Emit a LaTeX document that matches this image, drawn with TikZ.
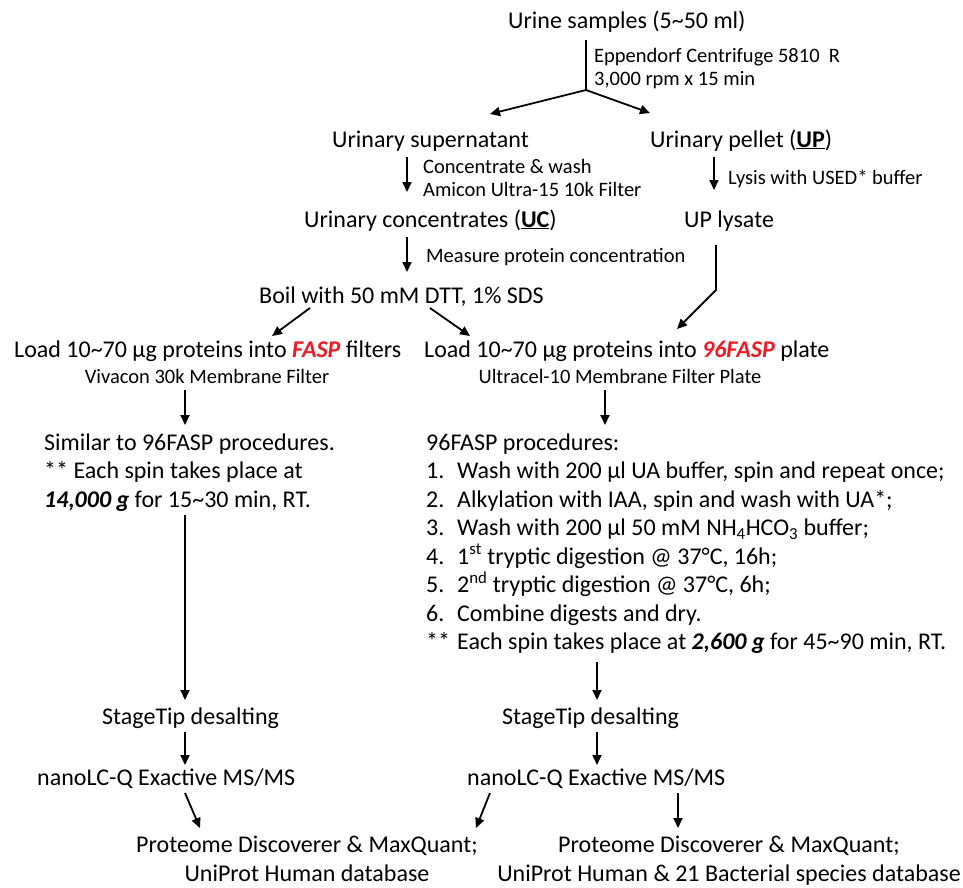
\documentclass[tikz,border=0pt]{standalone}
\usepackage{fontspec}
\setmainfont{Carlito}
\usetikzlibrary{arrows.meta}
\definecolor{faspred}{RGB}{237,28,36}
\newcommand{\fasp}[1]{\textcolor{faspred}{\textbf{\textit{#1}}}}
\newcommand{\numb}[1]{\makebox[31pt][l]{#1}}

\begin{document}
\begin{tikzpicture}[x=1pt, y=-1pt, inner sep=2pt,
  main/.style={font=\fontsize{24}{28.5}\selectfont, anchor=base west},
  note/.style={font=\fontsize{20.5}{23}\selectfont, anchor=base west},
  line/.style={line width=1.8pt},
  arr/.style={line width=1.8pt, -{Triangle[length=10pt,width=9pt]}}]
  \useasboundingbox (0,0) rectangle (963,888);
  % top: urine -> supernatant / pellet
  \node[main] (urine) at (506,29) {Urine samples (5\textasciitilde50 ml)};
  \coordinate (split) at (586,90);
  \node[note, align=left] (centri) at (592,86) {Eppendorf Centrifuge 5810\ \ R\\3,000 rpm x 15 min};
  \node[main] (super) at (330,147) {Urinary supernatant};
  \node[main] (pellet) at (648,147) {Urinary pellet (\underline{\textbf{UP}})};
  \node[note, align=left] (concwash) at (421,196) {Concentrate \& wash\\Amicon Ultra-15 10k Filter};
  \node[note] (lysis) at (726,184) {Lysis with USED* buffer};
  \node[main] (conc) at (302,227) {Urinary concentrates (\underline{\textbf{UC}})};
  \node[main] (lysate) at (682,227) {UP lysate};
  \node[note] (measure) at (424,262) {Measure protein concentration};
  \node[main] (boil) at (257,303) {Boil with 50 mM DTT, 1\% SDS};
  % loading
  \node[main] (loadl) at (12,357) {Load 10\textasciitilde70 μg proteins into \fasp{FASP} filters};
  \node[main] (loadr) at (422,357) {Load 10\textasciitilde70 μg proteins into \fasp{96FASP} plate};
  \node[note, anchor=base] (vivacon) at (207,383) {Vivacon 30k Membrane Filter};
  \node[note, anchor=base] (ultracel) at (620,383) {Ultracel-10 Membrane Filter Plate};
  % procedures
  \node[main, align=left] (simil) at (42,507) {Similar to 96FASP procedures.\\
    ** Each spin takes place at\\
    \textbf{\textit{14,000 g}} for 15\textasciitilde30 min, RT.};
  \node[main, align=left] (proc) at (424,649.5) {96FASP procedures:\\
    \numb{1.}Wash with 200 μl UA buffer, spin and repeat once;\\
    \numb{2.}Alkylation with IAA, spin and wash with UA*;\\
    \numb{3.}Wash with 200 μl 50 mM NH\textsubscript{4}HCO\textsubscript{3} buffer;\\
    \numb{4.}1\textsuperscript{st} tryptic digestion @ 37°C, 16h;\\
    \numb{5.}2\textsuperscript{nd} tryptic digestion @ 37°C, 6h;\\
    \numb{6.}Combine digests and dry.\\
    \numb{**}Each spin takes place at \textbf{\textit{2,600 g}} for 45\textasciitilde90 min, RT.};
  % analysis
  \node[main] (stagel) at (100,724) {StageTip desalting};
  \node[main] (stager) at (500,724) {StageTip desalting};
  \node[main] (nanol) at (35,785) {nanoLC-Q Exactive MS/MS};
  \node[main] (nanor) at (465,785) {nanoLC-Q Exactive MS/MS};
  \node[main, anchor=base, align=center] (pdl) at (307,881) {Proteome Discoverer \& MaxQuant;\\UniProt Human database};
  \node[main, anchor=base, align=center] (pdr) at (729,881) {Proteome Discoverer \& MaxQuant;\\UniProt Human \& 21 Bacterial species database};

  \draw[line] ([shift={(80,11)}]urine.base west) -- (split);
  \draw[arr] (split) -- ([shift={(160,-33)}]super.base west);
  \draw[arr] (split) -- ([shift={(2,-34)}]pellet.base west);
  \draw[arr] ([shift={(77,10)}]super.base west) -- ([shift={(105,-35)}]conc.base west);
  \draw[arr] ([shift={(66,10)}]pellet.base west) -- ([shift={(32,-37)}]lysate.base west);
  \draw[arr] ([shift={(105,10)}]conc.base west) -- ([shift={(150,-31)}]boil.base west);
  \draw[arr] ([shift={(34,18)}]lysate.base west) -- ++(0,45) -- ([shift={(255,-28)}]loadr.base west);
  \draw[arr] ([shift={(53,5)}]boil.base west) -- ([shift={(260,-21)}]loadl.base west);
  \draw[arr] ([shift={(173,5)}]boil.base west) -- ([shift={(48,-21)}]loadr.base west);
  \draw[arr] ([shift={(-22,7)}]vivacon.base) -- ([shift={(143,-82)}]simil.base west);
  \draw[arr] ([shift={(-15,7)}]ultracel.base) -- ([shift={(181,-224.5)}]proc.base west);
  \draw[arr] ([shift={(143,8)}]simil.base west) -- ([shift={(85,-24)}]stagel.base west);
  \draw[arr] ([shift={(173,12.5)}]proc.base west) -- ([shift={(97,-24)}]stager.base west);
  \draw[arr] ([shift={(85,8)}]stagel.base west) -- ([shift={(150,-20)}]nanol.base west);
  \draw[arr] ([shift={(97,8)}]stager.base west) -- ([shift={(132,-20)}]nanor.base west);
  \draw[arr] ([shift={(150,8)}]nanol.base west) -- ([shift={(-107,-53)}]pdl.base);
  \draw[arr] ([shift={(25,8)}]nanor.base west) -- ([shift={(169,-53)}]pdl.base);
  \draw[arr] ([shift={(213,8)}]nanor.base west) -- ([shift={(-51,-53)}]pdr.base);
\end{tikzpicture}
\end{document}
